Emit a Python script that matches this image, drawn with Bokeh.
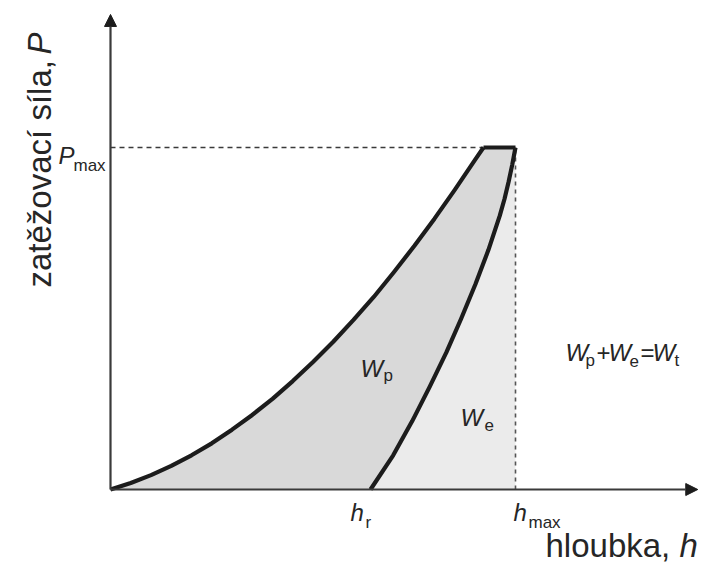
from math import pi

from bokeh.core.properties import value
from bokeh.embed import file_html
from bokeh.models import Arrow, NormalHead, Range1d
from bokeh.plotting import figure
from bokeh.resources import INLINE

# Indentation curve, normalised so that h_max = 1 and P_max = 1.
# Loading branch: depth h and force P from the origin up to P_max.
load_h = [0.0, 0.05, 0.10, 0.15, 0.20, 0.25, 0.30, 0.35, 0.40, 0.45, 0.50,
          0.55, 0.60, 0.65, 0.70, 0.75, 0.80, 0.85, 0.90, 0.921]
load_P = [0.0, 0.019, 0.042, 0.069, 0.100, 0.135, 0.175, 0.218, 0.265, 0.317, 0.373,
          0.432, 0.496, 0.563, 0.636, 0.712, 0.792, 0.876, 0.964, 1.0]

# Unloading branch: from (h_max, P_max) down to the residual depth h_r.
unload_h = [1.0, 0.992, 0.983, 0.973, 0.961, 0.933, 0.901, 0.866, 0.829, 0.788, 0.745, 0.698, 0.642]
unload_P = [1.0, 0.95, 0.90, 0.85, 0.80, 0.70, 0.60, 0.50, 0.40, 0.30, 0.20, 0.10, 0.0]

h_max = 1.0
P_max = 1.0
h_r = unload_h[-1]
h_hold = load_h[-1]

# axis arrow tips
h_axis_end = 1.45
P_axis_end = 1.389

# page geometry: 405 px per unit depth, 342 px per unit force
W, H = 710, 567
SX, SY = 405.0, 342.0
OX, OY = 110.0, 489.0


def hx(px):
    return (px - OX) / SX


def py(pyy):
    return (OY - pyy) / SY


p = figure(
    width=W, height=H,
    x_range=Range1d(hx(0), hx(W)), y_range=Range1d(py(H), py(0)),
    x_axis_type=None, y_axis_type=None,
    min_border=0, toolbar_location=None, output_backend="svg",
)
p.grid.visible = False
p.outline_line_color = None
p.background_fill_color = "white"
p.border_fill_color = "white"

C_CURVE = "#1c1c1c"
C_AXIS = "#3a3a3a"
C_DASH = "#3a3a3a"
C_TEXT = "#262626"
FONT = value("Liberation Sans")

# plastic work W_p: between loading and unloading branch
wp_x = load_h + unload_h + [0.0]
wp_y = load_P + unload_P + [0.0]
p.patch(wp_x, wp_y, fill_color="#d9d9d9", line_color=None)

# elastic work W_e: under the unloading branch
we_x = unload_h + [h_max]
we_y = unload_P + [0.0]
p.patch(we_x, we_y, fill_color="#ebebeb", line_color=None)

# guide lines to P_max and h_max
p.line([0, h_hold], [P_max, P_max], line_color=C_DASH, line_width=1.6, line_dash="5 4")
p.line([h_max, h_max], [0, P_max], line_color="#555555", line_width=1.6, line_dash="4 4")

# axes with arrow heads
p.add_layout(Arrow(end=NormalHead(size=12, fill_color=C_CURVE, line_color=C_CURVE, line_width=1),
                   x_start=0, y_start=0, x_end=h_axis_end, y_end=0,
                   line_color=C_AXIS, line_width=2.2))
p.add_layout(Arrow(end=NormalHead(size=12, fill_color=C_CURVE, line_color=C_CURVE, line_width=1),
                   x_start=0, y_start=0, x_end=0, y_end=P_axis_end,
                   line_color=C_AXIS, line_width=2.2))

# load, hold and unload
p.line(load_h, load_P, line_color=C_CURVE, line_width=4.2, line_join="round")
p.line([h_hold, h_max], [P_max, P_max], line_color=C_CURVE, line_width=4.2)
p.line(unload_h, unload_P, line_color=C_CURVE, line_width=4.2, line_join="round")


def txt(x, y, s, size, italic=False, align="left", xo=0, yo=0, angle=0.0):
    p.text(x=[x], y=[y], text=[s], x_offset=xo, y_offset=yo, angle=angle,
           text_font=FONT, text_font_size=f"{size}px",
           text_font_style="italic" if italic else "normal",
           text_align=align, text_baseline="alphabetic", text_color=C_TEXT)


BIG, SUB = 24, 17

# tick-like labels on the axes
txt(0, P_max, "P", BIG, italic=True, xo=-52, yo=8)
txt(0, P_max, "max", SUB, xo=-37, yo=18)
txt(h_r, 0, "h", BIG, italic=True, xo=-20, yo=23)
txt(h_r, 0, "r", SUB, xo=-5, yo=33)
txt(h_max, 0, "h", BIG, italic=True, xo=-2, yo=23)
txt(h_max, 0, "max", SUB, xo=13, yo=33)

# region labels
txt(hx(360), py(368), "W", BIG, italic=True)
txt(hx(383), py(375), "p", SUB)
txt(hx(460), py(417), "W", BIG, italic=True)
txt(hx(484), py(424), "e", SUB)

# W_p + W_e = W_t
txt(hx(565), py(352), "W", BIG, italic=True)
txt(hx(585), py(360), "p", SUB)
txt(hx(596), py(352), "+", BIG)
txt(hx(608), py(352), "W", BIG, italic=True)
txt(hx(629), py(360), "e", SUB)
txt(hx(640), py(352), "=", BIG)
txt(hx(652), py(352), "W", BIG, italic=True)
txt(hx(674), py(360), "t", SUB)

# axis titles
AX = 33
txt(hx(545), py(545), "hloubka, ", AX)
txt(hx(679), py(545), "h", AX, italic=True)
txt(hx(39), py(287), "zatěžovací síla, ", AX, angle=pi / 2)
txt(hx(39), py(54), "P", AX, italic=True, angle=pi / 2)

open("out.html", "w").write(file_html(p, INLINE))
